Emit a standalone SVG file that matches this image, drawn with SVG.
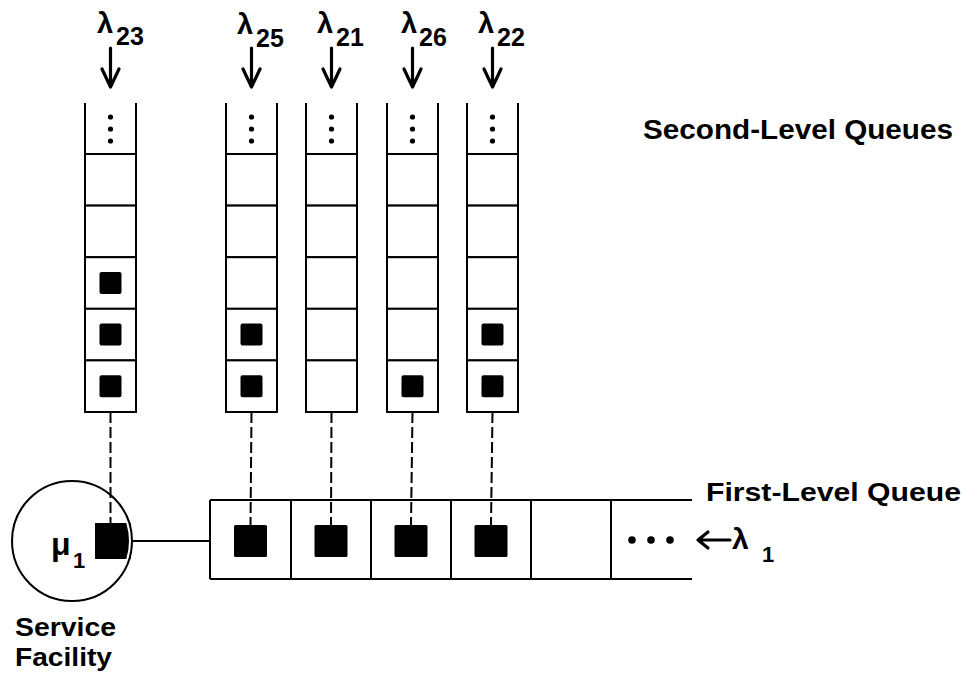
<svg xmlns="http://www.w3.org/2000/svg" width="963" height="674" viewBox="0 0 963 674">
  <style>
    .ln { fill: none; stroke: #000; stroke-width: 2; }
    .cell { fill: #fff; stroke: #000; stroke-width: 2; }
    .job { fill: #000; }
    .dash { fill: none; stroke: #000; stroke-width: 2; stroke-dasharray: 11 4; }
    .arr { fill: none; stroke: #000; stroke-width: 3.2; stroke-linecap: round; stroke-linejoin: round; }
    .dot { fill: #000; }
    .t { font-family: "Liberation Sans", Arial, sans-serif; font-weight: bold; fill: #000; }
  </style>
  <defs>
    <!-- one second-level queue: open top with ellipsis, five cells below -->
    <g id="column">
      <path class="ln" d="M0,103 V412 M51,103 V412"/>
      <rect class="cell" x="0" y="154" width="51" height="51.6"/>
      <rect class="cell" x="0" y="205.6" width="51" height="51.6"/>
      <rect class="cell" x="0" y="257.2" width="51" height="51.6"/>
      <rect class="cell" x="0" y="308.8" width="51" height="51.6"/>
      <rect class="cell" x="0" y="360.4" width="51" height="51.6"/>
      <circle class="dot" cx="25.5" cy="117" r="2.6"/>
      <circle class="dot" cx="25.5" cy="129" r="2.6"/>
      <circle class="dot" cx="25.5" cy="141" r="2.6"/>
    </g>
    <rect id="smalljob" class="job" x="-11" y="-11" width="22" height="22" rx="2"/>
    <rect id="bigjob" class="job" x="-16.5" y="-16" width="33" height="32" rx="1.5"/>
    <path id="down" class="arr" d="M0,48 V87 M-8.5,69 L0,87 L8.5,69"/>
    <clipPath id="svcClip">
      <rect x="95" y="523" width="36" height="36"/>
    </clipPath>
  </defs>

  <!-- connectors -->
  <g id="connectors">
    <path class="dash" d="M110.5,412 V523"/>
    <path class="dash" d="M251.5,412 L250.5,525"/>
    <path class="dash" d="M331.5,412 L331,525"/>
    <path class="dash" d="M412.5,412 L411,525"/>
    <path class="dash" d="M492.5,412 L491,525"/>
    <path class="ln" d="M132,541 H210"/>
  </g>

  <!-- second-level queues -->
  <g id="q23">
    <use href="#down" x="110.5"/>
    <text class="t" x="97" y="33" font-size="29">λ</text>
    <text class="t" x="116" y="45" font-size="25">23</text>
    <use href="#column" x="85"/>
    <use href="#smalljob" x="110.5" y="283"/>
    <use href="#smalljob" x="110.5" y="334.6"/>
    <use href="#smalljob" x="110.5" y="386.2"/>
  </g>
  <g id="q25">
    <use href="#down" x="251.5"/>
    <text class="t" x="237" y="34" font-size="29">λ</text>
    <text class="t" x="256" y="47" font-size="25">25</text>
    <use href="#column" x="226"/>
    <use href="#smalljob" x="251.5" y="334.6"/>
    <use href="#smalljob" x="251.5" y="386.2"/>
  </g>
  <g id="q21">
    <use href="#down" x="331.5"/>
    <text class="t" x="317" y="33" font-size="29">λ</text>
    <text class="t" x="336" y="46" font-size="25">21</text>
    <use href="#column" x="306"/>
  </g>
  <g id="q26">
    <use href="#down" x="412.5"/>
    <text class="t" x="401" y="33" font-size="29">λ</text>
    <text class="t" x="419" y="46" font-size="25">26</text>
    <use href="#column" x="387"/>
    <use href="#smalljob" x="412.5" y="386.2"/>
  </g>
  <g id="q22">
    <use href="#down" x="492.5"/>
    <text class="t" x="478" y="33" font-size="29">λ</text>
    <text class="t" x="497" y="46" font-size="25">22</text>
    <use href="#column" x="467"/>
    <use href="#smalljob" x="492.5" y="334.6"/>
    <use href="#smalljob" x="492.5" y="386.2"/>
  </g>
  <g id="second-level-label">
    <text class="t" x="643" y="139" font-size="28" textLength="310" lengthAdjust="spacingAndGlyphs">Second-Level Queues</text>
  </g>

  <!-- first-level queue -->
  <g id="first-level">
    <path class="ln" d="M210,500 H692 M210,579 H692 M210,500 V579 M291,500 V579 M371,500 V579 M451,500 V579 M531,500 V579 M611,500 V579"/>
    <use href="#bigjob" x="250.5" y="541"/>
    <use href="#bigjob" x="331" y="541"/>
    <use href="#bigjob" x="411" y="541"/>
    <use href="#bigjob" x="491" y="541"/>
    <circle class="dot" cx="632" cy="540" r="3.8"/>
    <circle class="dot" cx="651" cy="540" r="3.8"/>
    <circle class="dot" cx="670" cy="540" r="3.8"/>
    <path class="arr" d="M730,540 H698 M708,532 L698,540 L708,548"/>
    <text class="t" x="732" y="549" font-size="30">λ</text>
    <text class="t" x="762" y="562" font-size="22">1</text>
    <text class="t" x="706" y="501" font-size="26" textLength="255" lengthAdjust="spacingAndGlyphs">First-Level Queue</text>
  </g>

  <!-- service facility -->
  <g id="service">
    <circle class="ln" cx="72" cy="541" r="60"/>
    <rect class="job" x="95" y="523" width="36" height="36"/>
    <circle cx="72" cy="541" r="58" fill="none" stroke="#fff" stroke-width="2" clip-path="url(#svcClip)"/>
    <text class="t" x="51" y="555" font-size="32">μ</text>
    <text class="t" x="73" y="568" font-size="22">1</text>
    <text class="t" x="15" y="636" font-size="26" textLength="101" lengthAdjust="spacingAndGlyphs">Service</text>
    <text class="t" x="15" y="666" font-size="26" textLength="97" lengthAdjust="spacingAndGlyphs">Facility</text>
  </g>
</svg>
